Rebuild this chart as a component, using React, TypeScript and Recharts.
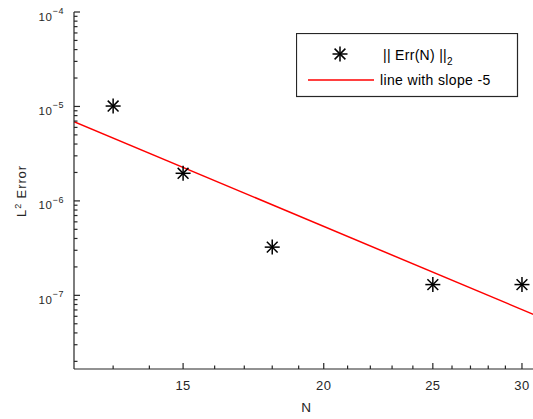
import { ComposedChart, XAxis, YAxis, Line, Scatter } from "recharts";

// sampled error norms
const sampleN = [13, 15, 18, 25, 30];
const sampleErr = [1.01e-5, 1.96e-6, 3.24e-7, 1.3e-7, 1.3e-7];

// reference line, slope -5 (end points)
const slopeN = [12, 31];
const slopeErr = [6.9e-6, 6.0e-8];

const xMajorTicks = [15, 20, 25, 30];
const xMinorTicks = [13, 14, 16, 17, 18, 19, 21, 22, 23, 24, 26, 27, 28, 29, 31];
const yMajorTicks = [1e-7, 1e-6, 1e-5, 1e-4];
const yMinorMult = [2, 3, 4, 5, 6, 7, 8, 9];

const X_DOMAIN: [number, number] = [12, 31];
const Y_DOMAIN: [number, number] = [1.66e-8, 1e-4];

const FONT = '"Liberation Sans", Arial, Helvetica, sans-serif';
const AXIS = "#262626";
const AXIS_W = 1.2;

const pointData = sampleN.map((n, i) => ({ n, err: sampleErr[i] }));
const slopeData = slopeN.map((n, i) => ({ n, err: slopeErr[i] }));

const xTicks = [...xMajorTicks, ...xMinorTicks].sort((a, b) => a - b);
const yTicks = [
  ...yMajorTicks,
  ...[1e-8, 1e-7, 1e-6, 1e-5].flatMap((d) => yMinorMult.map((m) => m * d)),
].filter((v) => v >= Y_DOMAIN[0] && v <= Y_DOMAIN[1]);

const isDecade = (v: number) => {
  const l = Math.log10(v);
  return Math.abs(l - Math.round(l)) < 1e-6;
};

const XTick = (props: any) => {
  const { x, y, payload } = props;
  const major = xMajorTicks.includes(payload.value);
  return (
    <g>
      <line x1={x} x2={x} y1={y} y2={y - (major ? 6 : 3.5)} stroke={AXIS} strokeWidth={AXIS_W} />
      {major && (
        <text
          x={x}
          y={y + 21}
          textAnchor="middle"
          fontSize={13}
          letterSpacing={0.4}
          fontFamily={FONT}
          fill={AXIS}
        >
          {payload.value}
        </text>
      )}
    </g>
  );
};

const XTopTick = (props: any) => {
  const { x, y, payload } = props;
  const major = xMajorTicks.includes(payload.value);
  return <line x1={x} x2={x} y1={y} y2={y + (major ? 6 : 3.5)} stroke={AXIS} strokeWidth={AXIS_W} />;
};

const YTick = (props: any) => {
  const { x, y, payload } = props;
  const major = isDecade(payload.value);
  const exp = Math.round(Math.log10(payload.value));
  return (
    <g>
      <line x1={x} x2={x + (major ? 6 : 3.5)} y1={y} y2={y} stroke={AXIS} strokeWidth={AXIS_W} />
      {major && (
        <text
          x={x - 10}
          y={y + 8.5}
          textAnchor="end"
          fontSize={11.5}
          letterSpacing={0.6}
          fontFamily={FONT}
          fill={AXIS}
        >
          10
          <tspan fontSize={9} dy={-6.5}>
            {"\u2212" + Math.abs(exp)}
          </tspan>
        </text>
      )}
    </g>
  );
};

const Star = ({ cx, cy, r = 7.5 }: { cx: number; cy: number; r?: number }) => {
  const d = r * 0.72;
  return (
    <g stroke="#000" strokeWidth={1.5}>
      <line x1={cx - r} x2={cx + r} y1={cy} y2={cy} />
      <line x1={cx} x2={cx} y1={cy - r} y2={cy + r} />
      <line x1={cx - d} x2={cx + d} y1={cy - d} y2={cy + d} />
      <line x1={cx - d} x2={cx + d} y1={cy + d} y2={cy - d} />
    </g>
  );
};

const LegendBox = () => (
  <svg
    width={223}
    height={65}
    style={{ position: "absolute", left: 296, top: 33 }}
    fontFamily={FONT}
  >
    <rect x={0.5} y={0.5} width={221} height={63} fill="#fff" stroke={AXIS} strokeWidth={1.2} />
    <Star cx={44} cy={21} />
    <text x={87} y={27} fontSize={14} fill="#000" letterSpacing={0.3}>
      || Err(N) ||
      <tspan fontSize={10} dy={5}>
        2
      </tspan>
    </text>
    <line x1={12} x2={78} y1={47} y2={47} stroke="#ff0000" strokeWidth={1.5} />
    <text x={84} y={52} fontSize={14} fill="#000" letterSpacing={0.35}>
      line with slope -5
    </text>
  </svg>
);

export default function App() {
  return (
    <div
      style={{
        position: "absolute",
        left: 0,
        top: 0,
        width: 533,
        height: 419,
        overflow: "hidden",
        background: "#fff",
      }}
    >
      <ComposedChart width={545} height={419} margin={{ top: 12, right: 7, bottom: 0, left: 0 }}>
        <XAxis
          dataKey="n"
          type="number"
          scale="log"
          domain={X_DOMAIN}
          allowDataOverflow
          ticks={xTicks}
          interval={0}
          height={50}
          tickSize={0}
          tickMargin={0}
          tickLine={false}
          axisLine={{ stroke: AXIS, strokeWidth: AXIS_W }}
          tick={<XTick />}
          label={() => (
            <text x={306} y={412} textAnchor="middle" fontSize={13.5} fontFamily={FONT} fill={AXIS}>
              N
            </text>
          )}
        />
        <XAxis
          xAxisId="top"
          orientation="top"
          dataKey="n"
          type="number"
          scale="log"
          domain={X_DOMAIN}
          allowDataOverflow
          ticks={xTicks}
          interval={0}
          height={0}
          tickSize={0}
          tickMargin={0}
          tickLine={false}
          axisLine={{ stroke: AXIS, strokeWidth: AXIS_W }}
          tick={<XTopTick />}
        />
        <YAxis
          dataKey="err"
          type="number"
          scale="log"
          domain={Y_DOMAIN}
          allowDataOverflow
          ticks={yTicks}
          interval={0}
          width={74}
          tickSize={0}
          tickMargin={0}
          tickLine={false}
          axisLine={{ stroke: AXIS, strokeWidth: AXIS_W }}
          tick={<YTick />}
          label={() => (
            <text
              transform="translate(26,191) rotate(-90)"
              textAnchor="middle"
              fontSize={13}
              letterSpacing={0.9}
              fontFamily={FONT}
              fill={AXIS}
            >
              L
              <tspan fontSize={9} dy={-5}>
                2
              </tspan>
              <tspan dy={5}> Error</tspan>
            </text>
          )}
        />
        <Line
          data={slopeData}
          dataKey="err"
          type="linear"
          stroke="#ff0000"
          strokeWidth={1.5}
          dot={false}
          isAnimationActive={false}
        />
        <Scatter
          data={pointData}
          dataKey="err"
          shape={(p: any) => <Star cx={p.cx} cy={p.cy} />}
          isAnimationActive={false}
        />
      </ComposedChart>
      <LegendBox />
    </div>
  );
}
